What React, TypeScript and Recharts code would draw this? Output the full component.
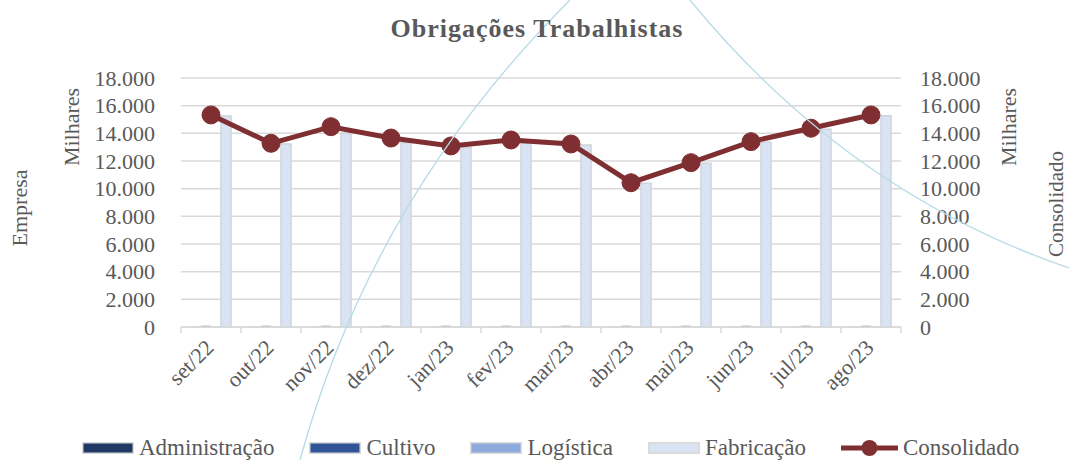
import React from 'react';
import { ComposedChart, Bar, Line, XAxis, YAxis, CartesianGrid } from 'recharts';

const categories = ['set/22', 'out/22', 'nov/22', 'dez/22', 'jan/23', 'fev/23', 'mar/23', 'abr/23', 'mai/23', 'jun/23', 'jul/23', 'ago/23'];
const administracao = [20, 20, 20, 20, 20, 20, 20, 20, 20, 20, 20, 20];
const cultivo = [80, 80, 80, 80, 80, 80, 80, 80, 80, 80, 80, 80];
const logistica = [20, 20, 20, 20, 20, 20, 20, 20, 20, 20, 20, 20];
const fabricacao = [15260, 13230, 14000, 13330, 12970, 13280, 13160, 10390, 11840, 13350, 14300, 15280];
const consolidado = [15330, 13280, 14480, 13660, 13090, 13520, 13230, 10430, 11880, 13400, 14370, 15330];
const yTicks = [0, 2000, 4000, 6000, 8000, 10000, 12000, 14000, 16000, 18000];

const data = categories.map((mes, i) => ({
  mes,
  administracao: administracao[i],
  cultivo: cultivo[i],
  logistica: logistica[i],
  fabricacao: fabricacao[i],
  consolidado: consolidado[i],
}));

const FONT = '"Liberation Serif", "DejaVu Serif", serif';
const TEXT = '#595959';
const GRID = '#d9d9d9';
const WINE = '#7f2f32';

const fmt = (v: number) => String(v).replace(/\B(?=(\d{3})+(?!\d))/g, '.');

// category ticks drawn at band edges like the spreadsheet does
const MonthTick = (props: any) => {
  const { x, y, payload, index } = props;
  const half = 30;
  return (
    <g>
      <line x1={x - half} y1={y} x2={x - half} y2={y + 6} stroke={GRID} strokeWidth={1.5} />
      {index === categories.length - 1 && (
        <line x1={x + half} y1={y} x2={x + half} y2={y + 6} stroke={GRID} strokeWidth={1.5} />
      )}
      <text
        x={x + 4}
        y={y + 22}
        transform={`rotate(-45, ${x + 4}, ${y + 22})`}
        textAnchor="end"
        fill={TEXT}
        fontSize={22}
        fontFamily={FONT}
      >
        {payload.value}
      </text>
    </g>
  );
};

const legendItems = [
  { name: 'Administração', color: '#1f3864', type: 'bar' },
  { name: 'Cultivo', color: '#2f5597', type: 'bar' },
  { name: 'Logística', color: '#8faadc', type: 'bar' },
  { name: 'Fabricação', color: '#dae3f3', type: 'bar' },
  { name: 'Consolidado', color: WINE, type: 'line' },
];

export default function App() {
  return (
    <div style={{ position: 'absolute', left: 0, top: 0, width: 1069, height: 460, background: '#fff', fontFamily: FONT }}>
      <ComposedChart
        width={1069}
        height={460}
        data={data}
        margin={{ top: 78, right: 0, bottom: 73, left: 0 }}
        barGap={0}
      >
        <CartesianGrid vertical={false} stroke={GRID} strokeWidth={1.5} yAxisId="left" />
        <XAxis
          dataKey="mes"
          height={60}
          tickSize={0}
          tickMargin={0}
          tickLine={false}
          axisLine={{ stroke: GRID, strokeWidth: 1.5 }}
          tick={<MonthTick />}
          interval={0}
        />
        <YAxis
          yAxisId="left"
          width={181}
          domain={[0, 18000]}
          ticks={yTicks}
          interval={0}
          tickFormatter={fmt}
          tickSize={0}
          tickMargin={26}
          axisLine={false}
          tickLine={false}
          tick={{ fill: TEXT, fontSize: 22, fontFamily: FONT }}
        />
        <YAxis
          yAxisId="right"
          orientation="right"
          width={168}
          domain={[0, 18000]}
          ticks={yTicks}
          interval={0}
          tickFormatter={fmt}
          tickSize={0}
          tickMargin={19}
          axisLine={false}
          tickLine={false}
          tick={{ fill: TEXT, fontSize: 22, fontFamily: FONT, textAnchor: 'start' }}
        />
        <Bar yAxisId="left" dataKey="administracao" name="Administração" barSize={10} fill="#1f3864" stroke={GRID} strokeWidth={1} isAnimationActive={false} />
        <Bar yAxisId="left" dataKey="cultivo" name="Cultivo" barSize={10} fill="#2f5597" stroke={GRID} strokeWidth={1} isAnimationActive={false} />
        <Bar yAxisId="left" dataKey="logistica" name="Logística" barSize={10} fill="#8faadc" stroke={GRID} strokeWidth={1} isAnimationActive={false} />
        <Bar yAxisId="left" dataKey="fabricacao" name="Fabricação" barSize={10} fill="#dae3f3" stroke="#cfd3da" strokeWidth={1.5} isAnimationActive={false} />
        <Line
          yAxisId="right"
          dataKey="consolidado"
          name="Consolidado"
          type="linear"
          stroke={WINE}
          strokeWidth={5}
          dot={{ r: 9, fill: WINE, stroke: WINE, strokeWidth: 1 }}
          activeDot={false}
          isAnimationActive={false}
        />
      </ComposedChart>

      <svg
        width={1069}
        height={460}
        style={{ position: 'absolute', left: 0, top: 0, pointerEvents: 'none' }}
      >
        {/* faint background swooshes from the slide */}
        <path d="M300,460 C355,260 460,110 570,0" fill="none" stroke="#b5dbe6" strokeWidth={1.3} />
        <path d="M690,0 C780,110 900,210 1069,268" fill="none" stroke="#b5dbe6" strokeWidth={1.3} />

        <text x={537} y={37} textAnchor="middle" fill={TEXT} fontSize={26} fontWeight="bold" letterSpacing={1} fontFamily={FONT}>
          Obrigações Trabalhistas
        </text>
        <text transform="translate(27, 208) rotate(-90)" textAnchor="middle" fill={TEXT} fontSize={22} fontFamily={FONT}>
          Empresa
        </text>
        <text transform="translate(79, 127) rotate(-90)" textAnchor="middle" fill={TEXT} fontSize={22} fontFamily={FONT}>
          Milhares
        </text>
        <text transform="translate(1016, 127) rotate(-90)" textAnchor="middle" fill={TEXT} fontSize={22} fontFamily={FONT}>
          Milhares
        </text>
        <text transform="translate(1063, 204) rotate(-90)" textAnchor="middle" fill={TEXT} fontSize={21} fontFamily={FONT}>
          Consolidado
        </text>
      </svg>

      <div
        style={{
          position: 'absolute',
          left: 82,
          top: 436,
          display: 'flex',
          alignItems: 'center',
          gap: 35,
          whiteSpace: 'nowrap',
        }}
      >
        {legendItems.map((it) => (
          <div key={it.name} style={{ display: 'flex', alignItems: 'center', gap: 5 }}>
            {it.type === 'bar' ? (
              <svg width={52} height={12}>
                <rect x={0.75} y={0.75} width={50.5} height={10.5} fill={it.color} stroke={GRID} strokeWidth={1.5} />
              </svg>
            ) : (
              <svg width={57} height={18}>
                <line x1={0} y1={9} x2={57} y2={9} stroke={it.color} strokeWidth={5} />
                <circle cx={28.5} cy={9} r={8} fill={it.color} />
              </svg>
            )}
            <span style={{ color: TEXT, fontSize: 23, lineHeight: '24px' }}>{it.name}</span>
          </div>
        ))}
      </div>
    </div>
  );
}
